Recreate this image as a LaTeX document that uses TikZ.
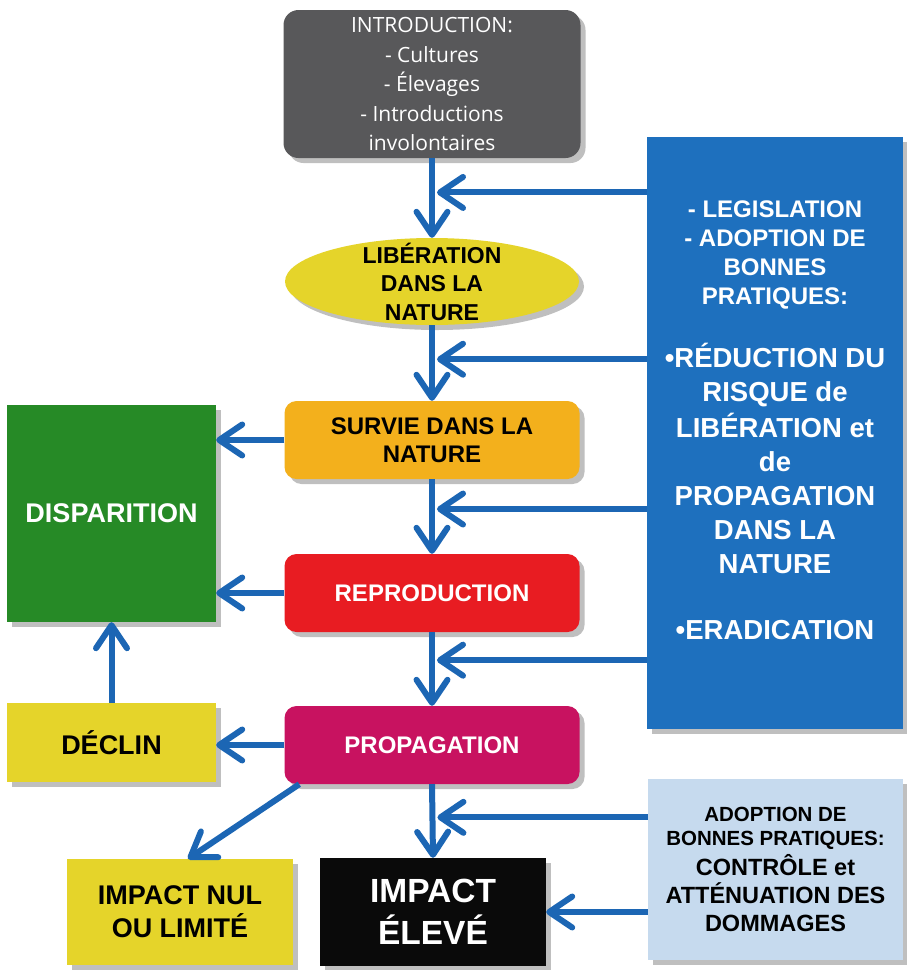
\documentclass[tikz,border=0pt]{standalone}
\usepackage{fontspec}
\setmainfont{Liberation Sans}
\newfontfamily\introfont{Open Sans}
\usetikzlibrary{shapes.geometric}
\usetikzlibrary{shadows}
\usetikzlibrary{arrows.meta}
\usetikzlibrary{calc}
\usepackage{xcolor}
\definecolor{gris}{RGB}{88,88,90}
\definecolor{jaune}{RGB}{229,212,42}
\definecolor{orangeclair}{RGB}{243,176,28}
\definecolor{rouge}{RGB}{232,28,34}
\definecolor{framboise}{RGB}{200,18,96}
\definecolor{vert}{RGB}{38,138,38}
\definecolor{noir}{RGB}{10,10,10}
\definecolor{bleu}{RGB}{30,112,190}
\definecolor{bleuclair}{RGB}{198,218,238}
\definecolor{bleufleche}{RGB}{28,102,180}
\newcommand{\grand}{\fontsize{27.5}{34}\selectfont}
\newcommand{\moyen}{\fontsize{23.5}{28}\selectfont}

\begin{document}
\begin{tikzpicture}[x=1pt,y=-1pt,
  ombre/.style={drop shadow={shadow xshift=5pt,shadow yshift=-5pt,opacity=0.5}},
  boite/.style={rectangle,ombre,inner sep=0pt,align=center},
  etape/.style={boite,rounded corners=12pt,minimum width=295pt,minimum height=78pt,
    font=\fontsize{24}{28}\selectfont\bfseries},
  fleche/.style={draw=bleufleche,line width=6pt,-{Straight Barb[length=23pt,width=31pt,round]}}]
\fill[white] (0,0) rectangle (906,970);
\node (intro) [etape,fill=gris,text=white,rounded corners=15pt,minimum width=297pt,minimum height=148pt,
  font=\introfont\fontsize{21}{29.5}\selectfont] at (432,84)
  {INTRODUCTION:\\- Cultures\\- Élevages\\- Introductions\\involontaires};
\node (liberation) [ellipse,ombre,fill=jaune,inner xsep=0pt,inner ysep=-14pt,minimum width=294pt,minimum height=87pt,
  align=center,font=\fontsize{23}{28.5}\selectfont\bfseries] at (432,281.5) {LIBÉRATION\\DANS LA\\NATURE};
\node (survie) [etape,fill=orangeclair] at (432,440) {SURVIE DANS LA\\NATURE};
\node (repro) [etape,fill=rouge,text=white] at (432,593) {REPRODUCTION};
\node (propag) [etape,fill=framboise,text=white] at (432,745) {PROPAGATION};
\node (disparition) [boite,fill=vert,text=white,minimum width=209pt,minimum height=217pt,
  font=\fontsize{27}{32}\selectfont\bfseries] at (111.5,513.5) {DISPARITION};
\node (declin) [boite,fill=jaune,minimum width=209pt,minimum height=79pt,
  font=\fontsize{27}{32}\selectfont\bfseries] at (111.5,742.5) {DÉCLIN};
\node (nul) [boite,fill=jaune,minimum width=226pt,minimum height=106pt,
  font=\fontsize{27}{33}\selectfont\bfseries] at (180,912) {IMPACT NUL\\OU LIMITÉ};
\node (eleve) [boite,fill=noir,text=white,minimum width=226pt,minimum height=108pt,
  font=\fontsize{33.5}{42}\selectfont\bfseries] at (433,912) {IMPACT\\ÉLEVÉ};
\node (panneau) [boite,fill=bleu,minimum width=256pt,minimum height=592pt] at (775,433) {};
\node (panneautexte) [text=white,align=center,inner sep=0pt,anchor=north,
  font=\fontsize{24}{29}\selectfont\bfseries] at ([yshift=-64pt]panneau.north)
  {- LEGISLATION\\- ADOPTION DE\\BONNES\\PRATIQUES:\\[33pt]
   \grand •RÉDUCTION DU\\[5pt]\grand RISQUE de\\[5pt]\grand LIBÉRATION et\\[5pt]\grand de\\[5pt]
   \grand PROPAGATION\\[5pt]\grand DANS LA\\[5pt]\grand NATURE\\[37pt]\grand •ERADICATION};
\node (controle) [boite,fill=bleuclair,minimum width=255pt,minimum height=181pt,
  font=\fontsize{20.5}{24}\selectfont\bfseries] at (775.5,869.5)
  {ADOPTION DE\\BONNES PRATIQUES:\\[4pt]\moyen CONTRÔLE et\\[4pt]\moyen ATTÉNUATION DES\\[4pt]\moyen DOMMAGES};
% points d'entree sur les fleches verticales
\coordinate (j1) at ($(intro.south)!0.43!(liberation.north)$);
\coordinate (j2) at ($(liberation.south)!0.45!(survie.north)$);
\coordinate (j3) at ($(survie.south)!0.4!(repro.north)$);
\coordinate (j4) at ($(repro.south)!0.38!(propag.north)$);
\coordinate (j5) at ($(propag.south)!0.45!(eleve.north)$);
\draw[fleche] (intro.south) -- (liberation.north);
\draw[fleche] (liberation.south) -- (survie.north);
\draw[fleche] (survie.south) -- (repro.north);
\draw[fleche] (repro.south) -- (propag.north);
\draw[fleche] (propag.south) -- (eleve.north);
\draw[fleche] (panneau.west |- j1) -- ([xshift=5pt]j1);
\draw[fleche] (panneau.west |- j2) -- ([xshift=5pt]j2);
\draw[fleche] (panneau.west |- j3) -- ([xshift=5pt]j3);
\draw[fleche] (panneau.west |- j4) -- ([xshift=5pt]j4);
\draw[fleche] (controle.west |- j5) -- ([xshift=5pt]j5);
\draw[fleche] (controle.west |- eleve.east) -- (eleve.east);
\draw[fleche] (survie.west) -- (survie.west -| disparition.east);
\draw[fleche] (repro.west) -- (repro.west -| disparition.east);
\draw[fleche] (propag.west) -- (declin.east |- propag.west);
\draw[fleche] (declin.north) -- (disparition.south);
\draw[fleche] ([xshift=15pt]propag.south west) -- ([xshift=8pt]nul.north);
\end{tikzpicture}
\end{document}
